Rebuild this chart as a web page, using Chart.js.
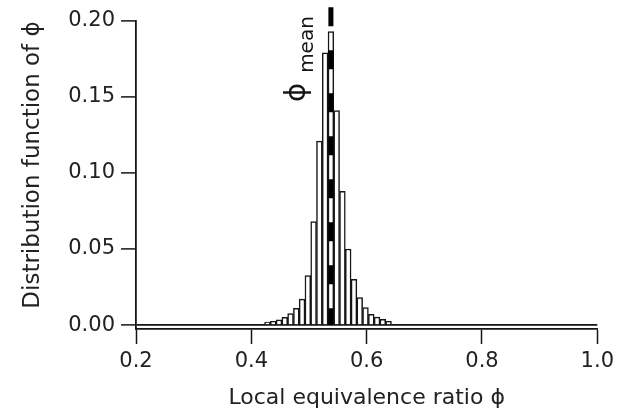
<!DOCTYPE html>
<html>
<head>
<meta charset="utf-8">
<script src="https://cdn.jsdelivr.net/npm/chart.js@4.4.1/dist/chart.umd.min.js"></script>
<style>
  html, body { margin: 0; padding: 0; background: #fff; }
  #cnv { display: block; }
</style>
</head>
<body>
<canvas id="cnv" width="619" height="420"></canvas>
<script>
(function(){

    // histogram of the local equivalence ratio, bins 0.01 wide
    var binCenters = [0.428, 0.438, 0.448, 0.458, 0.468, 0.478, 0.488, 0.498, 0.508, 0.518, 0.528,
                      0.538, 0.548, 0.558, 0.568, 0.578, 0.588, 0.598, 0.608, 0.618, 0.628, 0.638];
    var density = [0.002, 0.0025, 0.0035, 0.005, 0.0075, 0.011, 0.017, 0.0325, 0.068, 0.121, 0.179,
                   0.193, 0.141, 0.088, 0.050, 0.030, 0.018, 0.0115, 0.007, 0.0052, 0.0037, 0.0025];

    var phiMean = 0.538;
    var meanLineTop = 0.209;

    var xTicks = [0.2, 0.4, 0.6, 0.8, 1.0];
    var yTicks = [0.00, 0.05, 0.10, 0.15, 0.20];

    var ink = '#151515';
    var font = 'DejaVu Sans';

    var bars = binCenters.map(function(x, i){ return {x: x, y: density[i]}; });

    // "phi_mean" written upright along the dashed line, plus the y title
    var labels = {
        id: 'labels',
        afterDatasetsDraw: function(chart){
            var ctx = chart.ctx;
            var px = chart.scales.x.getPixelForValue(phiMean);
            ctx.save();
            ctx.fillStyle = ink;
            ctx.translate(px - 26, 102);
            ctx.rotate(-Math.PI / 2);
            ctx.textBaseline = 'alphabetic';
            ctx.textAlign = 'left';
            ctx.font = '29px "' + font + '"';
            ctx.fillText('\u03D5', 0, 0);
            var w = ctx.measureText('\u03D5').width;
            ctx.font = '20px "' + font + '"';
            ctx.fillText('mean', w + 10, 8);
            ctx.restore();

            ctx.save();
            ctx.fillStyle = '#222';
            ctx.translate(33, 165);
            ctx.rotate(-Math.PI / 2);
            ctx.textAlign = 'center';
            ctx.textBaseline = 'middle';
            ctx.font = '23px "' + font + '"';
            ctx.fillText('Distribution function of \u03D5', 0, 0);
            ctx.restore();
        }
    };

    var myChart = new Chart(document.getElementById('cnv'), {
        type: 'bar',
        data: {
            datasets: [
                {
                    type: 'line',
                    data: [{x: phiMean, y: meanLineTop}, {x: phiMean, y: 0}],
                    borderColor: '#000',
                    borderWidth: 5,
                    borderDash: [19, 24],
                    borderCapStyle: 'butt',
                    pointRadius: 0,
                    fill: false,
                    clip: false,
                    order: 1
                },
                {
                    data: bars,
                    backgroundColor: '#fff',
                    borderColor: ink,
                    borderWidth: 1.5,
                    barPercentage: 1,
                    categoryPercentage: 1,
                    order: 2
                }
            ]
        },
        options: {
            responsive: false,
            animation: false,
            layout: { padding: { top: 21, right: 18, left: 0, bottom: 0 } },
            plugins: { legend: { display: false }, tooltip: { enabled: false } },
            scales: {
                x: {
                    type: 'linear',
                    min: 0.2,
                    max: 1.0,
                    offset: false,
                    afterBuildTicks: function(scale){
                        scale.ticks = xTicks.map(function(v){ return {value: v}; });
                    },
                    afterFit: function(scale){ scale.height = 91; },
                    grid: { drawOnChartArea: false, offset: false, tickLength: 15, tickColor: ink, tickWidth: 1.5 },
                    border: { color: ink, width: 1.8 },
                    ticks: {
                        color: '#222',
                        padding: 5,
                        maxRotation: 0,
                        font: { family: font, size: 21 },
                        callback: function(v){ return Number(v).toFixed(1); }
                    },
                    title: {
                        display: true,
                        text: 'Local equivalence ratio \u03D5',
                        color: '#222',
                        font: { family: font, size: 22 },
                        padding: { top: 0, bottom: 9 }
                    }
                },
                y: {
                    min: -0.0026,
                    max: 0.2,
                    afterBuildTicks: function(scale){
                        scale.ticks = yTicks.map(function(v){ return {value: v}; });
                    },
                    afterFit: function(scale){ scale.width = 136; },
                    grid: {
                        color: function(c){ return c.tick && c.tick.value === 0 ? ink : 'rgba(0,0,0,0)'; },
                        lineWidth: 1.8,
                        tickLength: 15,
                        tickColor: ink,
                        tickWidth: 1.5
                    },
                    border: { color: ink, width: 1.8 },
                    ticks: {
                        color: '#222',
                        padding: 6,
                        font: { family: font, size: 21 },
                        callback: function(v){ return Number(v).toFixed(2); }
                    }
                }
            }
        },
        plugins: [labels]
    });

})();
</script>
</body>
</html>
